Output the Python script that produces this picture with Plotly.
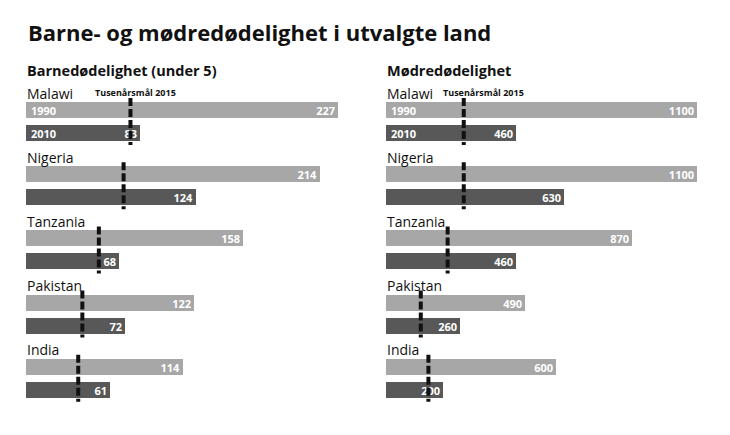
import plotly.graph_objects as go

countries = ["Malawi", "Nigeria", "Tanzania", "Pakistan", "India"]
child_1990 = [227, 214, 158, 122, 114]
child_2010 = [83, 124, 68, 72, 61]
child_goal = [76, 71, 53, 41, 38]
mat_1990 = [1100, 1100, 870, 490, 600]
mat_2010 = [460, 630, 460, 260, 200]
mat_goal = [275, 275, 218, 123, 150]
years = ["1990", "2010"]
title = "Barne- og mødredødelighet i utvalgte land"
subtitles = ["Barnedødelighet (under 5)", "Mødredødelighet"]
goal_label = "Tusenårsmål 2015"

W, H = 730, 435
FONT = "Open Sans"
LIGHT = "#a7a7a7"
DARK = "#585858"

# layout geometry (pixels)
row0, step = 93, 64.2
bar_h = 16

fig = go.Figure()

panels = [
    dict(v1=child_1990, v2=child_2010, goal=child_goal, xa="x", ya="y",
         left=26, right=360, scale=312 / 227, label_x=50),
    dict(v1=mat_1990, v2=mat_2010, goal=mat_goal, xa="x2", ya="y2",
         left=386, right=720, scale=311 / 1100, label_x=202),
]

y1 = [row0 + 17 + step * i for i in range(len(countries))]
y2 = [row0 + 40 + step * i for i in range(len(countries))]
ycn = [row0 + step * i for i in range(len(countries))]

for p in panels:
    for vals, ys, col in ((p["v1"], y1, LIGHT), (p["v2"], y2, DARK)):
        fig.add_trace(go.Bar(
            x=vals, y=ys, orientation="h", width=bar_h,
            marker=dict(color=col, line=dict(width=0)),
            text=[str(v) for v in vals], textposition="inside", textangle=0,
            insidetextanchor="end", constraintext="none",
            textfont=dict(color="white", size=11, family=FONT, weight="bold"),
            xaxis=p["xa"], yaxis=p["ya"], showlegend=False, hoverinfo="skip",
        ))
    for i, g in enumerate(p["goal"]):
        fig.add_shape(type="line", xref=p["xa"], yref=p["ya"],
                      x0=g, x1=g, y0=y1[i] - bar_h / 2 - 4, y1=y2[i] + bar_h / 2 + 4,
                      line=dict(color="#111111", width=4, dash="8px,3px"))
    for i, c in enumerate(countries):
        fig.add_annotation(x=0, y=ycn[i], xref=p["xa"], yref=p["ya"], text=c,
                           showarrow=False, xanchor="left", yanchor="middle", xshift=-1,
                           font=dict(size=14, family=FONT, color="#111111"))
    fig.add_annotation(x=p["label_x"], y=ycn[0] - 1, xref=p["xa"], yref=p["ya"],
                       text=goal_label, showarrow=False, xanchor="left", yanchor="middle",
                       xshift=-2,
                       font=dict(size=9, family=FONT, color="#111111", weight="bold"))
    for yr, yy in zip(years, (y1[0], y2[0])):
        fig.add_annotation(x=0, y=yy, xref=p["xa"], yref=p["ya"], text=yr,
                           showarrow=False, xanchor="left", yanchor="middle", xshift=3,
                           font=dict(size=11, family=FONT, color="white", weight="bold"))

for k, p in enumerate(panels):
    suffix = "" if k == 0 else "2"
    xrange = [0, (p["right"] - p["left"]) / p["scale"]]
    fig.layout["xaxis" + suffix] = dict(domain=[p["left"] / W, p["right"] / W], range=xrange,
                                        visible=False, fixedrange=True)
    fig.layout["yaxis" + suffix] = dict(domain=[0, 1], range=[H, 0], visible=False,
                                        fixedrange=True, anchor="x" + suffix)
    fig.add_annotation(x=p["left"] / W, y=1 - 70 / H, xref="paper", yref="paper",
                       text=subtitles[k], showarrow=False, xanchor="left", yanchor="middle",
                       xshift=-1,
                       font=dict(size=14.5, family=FONT, color="#111111", weight="bold"))

fig.add_annotation(x=26 / W, y=1 - 32 / H, xref="paper", yref="paper", text=title,
                   showarrow=False, xanchor="left", yanchor="middle",
                   font=dict(size=22, family=FONT, color="#111111", weight="bold"))

fig.update_layout(width=W, height=H, margin=dict(l=0, r=0, t=0, b=0),
                  paper_bgcolor="white", plot_bgcolor="white", barmode="overlay",
                  bargap=0, uniformtext=dict(mode="show", minsize=11))

fig.write_html("out.html", config={"displayModeBar": False},
               post_script="document.body.style.margin='0';document.body.style.padding='0';")
